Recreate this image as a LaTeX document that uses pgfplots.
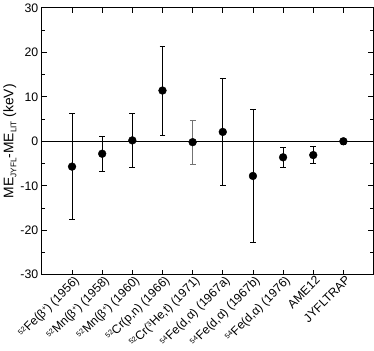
\documentclass[border=0pt]{standalone}
\usepackage{pgfplots}
\pgfplotsset{compat=1.18}
\usepackage{fontspec}
\setmainfont{Liberation Sans}
\newcommand{\sps}[1]{\raisebox{0.55ex}{\fontsize{7}{7}\selectfont #1}}
\begin{document}
\begin{tikzpicture}
\begin{axis}[
  scale only axis,
  width=323pt, height=260pt,
  xmin=0, xmax=11, ymin=-30, ymax=30,
  xtick={1,...,10},
  xticklabels={
    {\sps{52}Fe(β\sps{+}) (1956)},
    {\sps{52}Mn(β\sps{+}) (1958)},
    {\sps{52}Mn(β\sps{+}) (1960)},
    {\sps{52}Cr(p,n) (1966)},
    {\sps{52}Cr(\sps{3}He,t) (1971)},
    {\sps{54}Fe(d,α) (1967a)},
    {\sps{54}Fe(d,α) (1967b)},
    {\sps{54}Fe(d,α) (1976)},
    {AME12},
    {JYFLTRAP}},
  xticklabel style={rotate=45, anchor=north east, font=\fontsize{11.8}{12}\selectfont, inner sep=1pt, xshift=2pt},
  ytick={-30,-20,...,30},
  minor y tick num=1,
  yticklabel style={font=\fontsize{12}{13}\selectfont},
  /pgf/number format/assume math mode=true,
  tick align=inside,
  major tick length=5pt, minor tick length=3pt,
  tick style={black, line width=0.8pt},
  axis line style={line width=0.9pt},
  ylabel={ME\raisebox{-0.4ex}{\fontsize{8}{8}\selectfont JYFL}-ME\raisebox{-0.4ex}{\fontsize{8}{8}\selectfont LIT} (keV)},
  ylabel style={font=\fontsize{13.5}{14}\selectfont, yshift=-3pt},
  clip=false,
]
\addplot[black, line width=0.6pt, forget plot] coordinates {(0,0) (11,0)};
\addplot[
  only marks, mark=*, mark size=3.8pt, black,
  error bars/.cd, y dir=both, y explicit,
  error bar style={line width=0.6pt, black},
  error mark options={rotate=90, mark size=2.8pt, line width=0.6pt}
] coordinates {
  (1,-5.7) +- (0,11.9)
  (2,-2.8) +- (0,4.0)
  (3,0.2) +- (0,6.1)
  (4,11.4) +- (0,10.0)
  (6,2.1) +- (0,12.0)
  (7,-7.8) +- (0,14.9)
  (8,-3.6) +- (0,2.2)
  (9,-3.1) +- (0,1.9)
  (10,0.0) +- (0,0.6)
};
\addplot[
  only marks, mark=*, mark size=3.8pt, black,
  error bars/.cd, y dir=both, y explicit,
  error bar style={line width=0.7pt, black!55},
  error mark options={rotate=90, mark size=2.8pt, line width=0.7pt, black!55}
] coordinates {
  (5,-0.2) +- (0,5.0)
};
\end{axis}
\end{tikzpicture}
\end{document}
